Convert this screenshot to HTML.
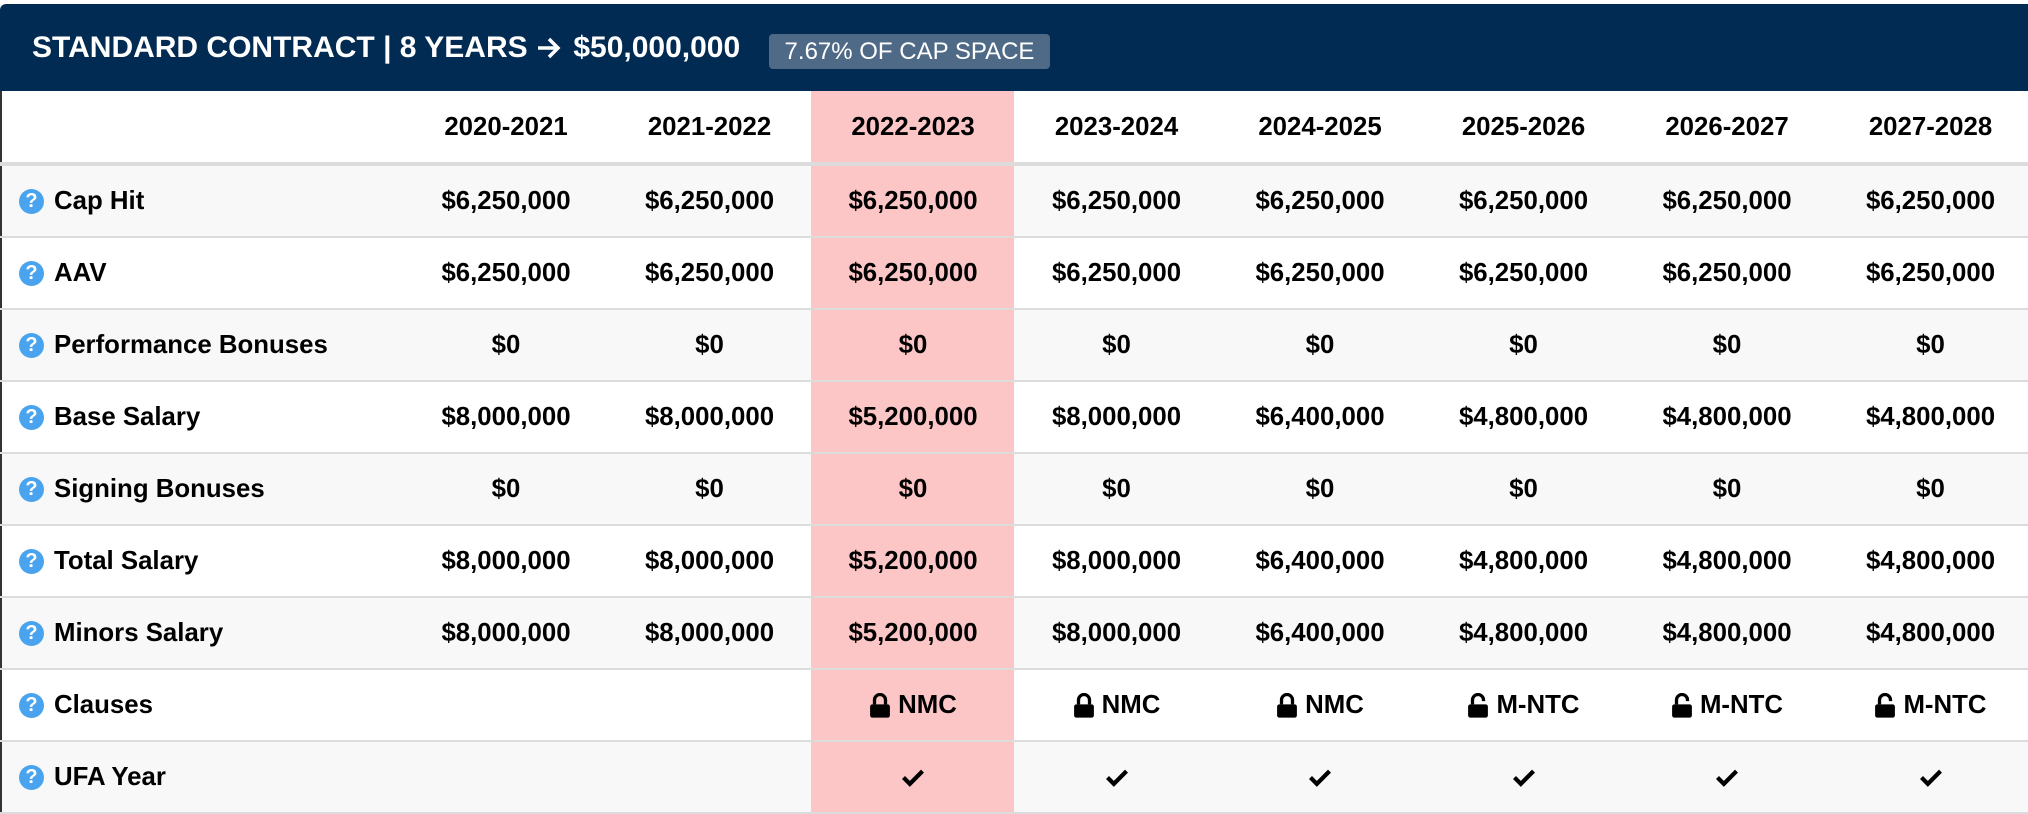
<!DOCTYPE html>
<html><head><meta charset="utf-8"><style>
*{margin:0;padding:0;box-sizing:border-box}
body{width:2028px;height:814px;overflow:hidden;background:#fff;font-family:"Liberation Sans",Arial,sans-serif;position:relative}
.hdr{position:absolute;left:0;top:4px;width:2040px;height:87px;background:#012b53;border-radius:6px 0 0 0}
.title{position:absolute;left:32px;top:27px;height:34px;line-height:34px;color:#fff;font-weight:bold;font-size:30px;white-space:nowrap}
.badge{position:absolute;left:769px;top:30px;width:281px;height:35px;background:#4f6a86;border-radius:4px;color:#fff;font-size:24px;line-height:35px;text-align:center}
.lb{position:absolute;left:0;top:91px;width:2px;height:723px;background:#333}
.hl{position:absolute;left:811px;top:91px;width:203px;height:723px;background:#fcc6c6}
.row{position:absolute;left:0;width:2028px;height:72px}
.cell{position:absolute;top:0;width:204px;height:100%;display:flex;align-items:center;justify-content:center;font-weight:bold;font-size:25.8px;color:#000;white-space:nowrap}
.lab{position:absolute;left:19px;top:0;height:100%;display:flex;align-items:center;font-weight:bold;font-size:25.8px}
.q{width:25px;height:25px;border-radius:50%;background:#4aa3ee;color:#fff;font-size:20px;font-weight:bold;display:inline-flex;align-items:center;justify-content:center;margin-right:10px}
.line{position:absolute;left:0;width:2028px;background:#dcdcdc}
</style></head><body>
<div class="hdr"><div class="title">STANDARD CONTRACT | 8 YEARS <svg width="26" height="24" viewBox="0 0 26 24" style="vertical-align:-3px;margin:0 3px 0 0"><path d="M2 12H22M13 3l9 9-9 9" fill="none" stroke="#fff" stroke-width="3.5"/></svg> $50,000,000</div><div class="badge">7.67% OF CAP SPACE</div></div>
<div id="rows"></div>
<script>
var cols=["2020-2021","2021-2022","2022-2023","2023-2024","2024-2025","2025-2026","2026-2027","2027-2028"];
var lock='<svg width="22" height="25" viewBox="0 0 20 22" style="margin-right:7px"><path d="M5 10V6a5 5 0 0 1 10 0v4" fill="none" stroke="#000" stroke-width="3"/><rect x="1" y="10" width="18" height="12" rx="2"/></svg>';
var unlock='<svg width="22" height="25" viewBox="0 0 20 22" style="margin-right:7px"><path d="M5 10V6a5 5 0 0 1 10 0v1" fill="none" stroke="#000" stroke-width="3"/><rect x="1" y="10" width="18" height="12" rx="2"/></svg>';
var chk='<svg width="24" height="19" viewBox="0 0 22 18"><path d="M2 9l6 6L20 3" fill="none" stroke="#000" stroke-width="4"/></svg>';
var c="$6,250,000",z="$0";
var rows=[
["Cap Hit",[c,c,c,c,c,c,c,c]],
["AAV",[c,c,c,c,c,c,c,c]],
["Performance Bonuses",[z,z,z,z,z,z,z,z]],
["Base Salary",["$8,000,000","$8,000,000","$5,200,000","$8,000,000","$6,400,000","$4,800,000","$4,800,000","$4,800,000"]],
["Signing Bonuses",[z,z,z,z,z,z,z,z]],
["Total Salary",["$8,000,000","$8,000,000","$5,200,000","$8,000,000","$6,400,000","$4,800,000","$4,800,000","$4,800,000"]],
["Minors Salary",["$8,000,000","$8,000,000","$5,200,000","$8,000,000","$6,400,000","$4,800,000","$4,800,000","$4,800,000"]],
["Clauses",["","",lock+"NMC",lock+"NMC",lock+"NMC",unlock+"M-NTC",unlock+"M-NTC",unlock+"M-NTC"]],
["UFA Year",["","",chk,chk,chk,chk,chk,chk]]
];
var h='<div class="hl"></div><div class="lb"></div>';
h+='<div class="row" style="top:91px;height:72px">';
cols.forEach(function(t,i){h+='<div class="cell" style="left:'+(404+i*203.5)+'px">'+t+'</div>';});
h+='</div><div class="line" style="top:162px;height:4px"></div>';
rows.forEach(function(r,k){
 var top=166+k*72;
 if(k%2==0) h+='<div style="position:absolute;left:2px;top:'+top+'px;width:809px;height:70px;background:#f8f8f8"></div><div style="position:absolute;left:1014px;top:'+top+'px;width:1014px;height:70px;background:#f8f8f8"></div>';
 h+='<div class="row" style="top:'+top+'px;height:70px"><div class="lab"><span class="q">?</span>'+r[0]+'</div>';
 r[1].forEach(function(t,i){h+='<div class="cell" style="left:'+(404+i*203.5)+'px">'+t+'</div>';});
 h+='</div><div class="line" style="top:'+(top+70)+'px;height:2px"></div>';
});
document.getElementById('rows').innerHTML=h;
</script>
</body></html>
